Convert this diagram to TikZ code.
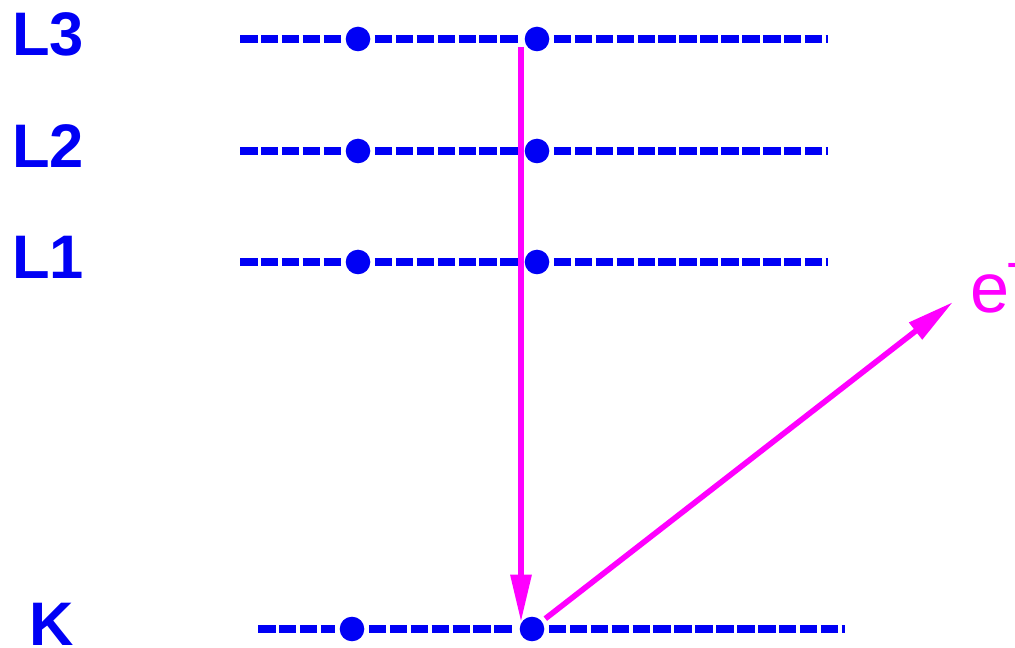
\documentclass[tikz,border=0pt]{standalone}
\usepackage{fontspec}
\setmainfont{Liberation Sans}
\usetikzlibrary{arrows.meta}
\definecolor{shellblue}{RGB}{0,0,245}
\definecolor{augmag}{RGB}{255,0,255}

\begin{document}
\begin{tikzpicture}[x=0.02cm, y=-0.02cm, >=Stealth,
  level/.style={draw=shellblue, line width=4.8pt, dash pattern=on 10pt off 1.9pt},
  elec/.style={circle, fill=shellblue, inner sep=0pt, minimum size=14pt, outer sep=2.6pt},
  shell/.style={font=\fontsize{35}{40}\selectfont\bfseries, text=shellblue, inner sep=0pt, anchor=base west},
  trans/.style={draw=augmag, line width=3.2pt, -{Triangle[length=27pt, width=11.5pt]}}]
  %% Frame
  \useasboundingbox (0,0) rectangle (1015,648);

  %% L shells (label, electrons, dashed level)
  \foreach \n/\y in {3/39, 2/151, 1/262}{
    \node[shell] (lbl\n) at (12,\y+17) {L\n};
    \coordinate (l\n s) at (240,\y);
    \node[elec] (l\n a) at (358,\y) {};
    \node[elec] (l\n b) at (537,\y) {};
    \coordinate (l\n e) at (828,\y);
    \draw[level] (l\n s) -- (l\n a) -- (l\n b) -- (l\n e);
  }

  %% K shell
  \node[shell] (lblk) at (29,645) {K};
  \coordinate (ks) at (258,629);
  \node[elec] (ka) at (352,629) {};
  \node[elec] (kb) at (532,629) {};
  \coordinate (ke) at (845,629);
  \draw[level] (ks) -- (ka) -- (kb) -- (ke);

  %% Transition L3 -> K and emitted electron
  \coordinate (drop) at (521,47);
  \coordinate (hole) at (521,622);
  \coordinate (away) at (953,302);
  \draw[trans] (drop) -- (hole);
  \draw[trans] (kb) -- (away);
  \node[font=\fontsize{40}{44}\selectfont, text=augmag, inner sep=0pt, anchor=base west]
    (elbl) at (970,313) {e\kern-1.5pt\raisebox{19pt}{\fontsize{30}{32}\selectfont -}};
\end{tikzpicture}
\end{document}
